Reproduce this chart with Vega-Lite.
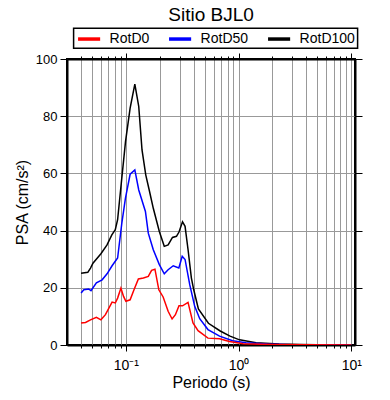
{
  "$schema": "https://vega.github.io/schema/vega-lite/v6.json",
  "autosize": {"type": "none"},
  "width": 288,
  "height": 286,
  "padding": {"left": 67, "top": 59, "right": 35, "bottom": 55},
  "background": "white",
  "title": {"text": "Sitio BJL0", "fontSize": 19, "font": "Liberation Sans", "fontWeight": "normal", "anchor": "middle", "offset": 3, "color": "black"},
  "config": {
    "view": {"stroke": "black", "strokeWidth": 2},
    "font": "Liberation Sans",
    "axis": {"domainColor": "black", "domainWidth": 2, "tickColor": "black", "labelColor": "black", "titleColor": "black", "labelFont": "Liberation Sans", "titleFont": "Liberation Sans", "titleFontWeight": "normal", "gridColor": "#999999", "gridWidth": 1, "gridOpacity": 1}
  },
  "data": {"values": [
    {"T": 0.040, "psa": 25.1, "serie": "RotD100"},
    {"T": 0.0459, "psa": 25.4, "serie": "RotD100"},
    {"T": 0.0485, "psa": 26.9, "serie": "RotD100"},
    {"T": 0.051, "psa": 28.6, "serie": "RotD100"},
    {"T": 0.060, "psa": 31.9, "serie": "RotD100"},
    {"T": 0.068, "psa": 35.0, "serie": "RotD100"},
    {"T": 0.075, "psa": 38.5, "serie": "RotD100"},
    {"T": 0.0805, "psa": 40.3, "serie": "RotD100"},
    {"T": 0.0844, "psa": 43.8, "serie": "RotD100"},
    {"T": 0.091, "psa": 56.6, "serie": "RotD100"},
    {"T": 0.0992, "psa": 71.1, "serie": "RotD100"},
    {"T": 0.109, "psa": 82.8, "serie": "RotD100"},
    {"T": 0.120, "psa": 91.2, "serie": "RotD100"},
    {"T": 0.130, "psa": 83.4, "serie": "RotD100"},
    {"T": 0.139, "psa": 68.2, "serie": "RotD100"},
    {"T": 0.150, "psa": 59.5, "serie": "RotD100"},
    {"T": 0.161, "psa": 54.2, "serie": "RotD100"},
    {"T": 0.175, "psa": 47.8, "serie": "RotD100"},
    {"T": 0.198, "psa": 39.7, "serie": "RotD100"},
    {"T": 0.219, "psa": 34.5, "serie": "RotD100"},
    {"T": 0.237, "psa": 35.0, "serie": "RotD100"},
    {"T": 0.259, "psa": 37.6, "serie": "RotD100"},
    {"T": 0.281, "psa": 38.0, "serie": "RotD100"},
    {"T": 0.296, "psa": 39.5, "serie": "RotD100"},
    {"T": 0.318, "psa": 43.1, "serie": "RotD100"},
    {"T": 0.335, "psa": 41.5, "serie": "RotD100"},
    {"T": 0.356, "psa": 33.4, "serie": "RotD100"},
    {"T": 0.381, "psa": 23.5, "serie": "RotD100"},
    {"T": 0.40, "psa": 19.3, "serie": "RotD100"},
    {"T": 0.44, "psa": 12.6, "serie": "RotD100"},
    {"T": 0.54, "psa": 7.6, "serie": "RotD100"},
    {"T": 0.687, "psa": 4.9, "serie": "RotD100"},
    {"T": 0.84, "psa": 3.1, "serie": "RotD100"},
    {"T": 1.02, "psa": 1.8, "serie": "RotD100"},
    {"T": 1.43, "psa": 0.8, "serie": "RotD100"},
    {"T": 2.29, "psa": 0.35, "serie": "RotD100"},
    {"T": 3.5, "psa": 0.15, "serie": "RotD100"},
    {"T": 5, "psa": 0.08, "serie": "RotD100"},
    {"T": 7, "psa": 0.05, "serie": "RotD100"},
    {"T": 10, "psa": 0.03, "serie": "RotD100"},

    {"T": 0.040, "psa": 18.2, "serie": "RotD50"},
    {"T": 0.0423, "psa": 19.3, "serie": "RotD50"},
    {"T": 0.0467, "psa": 19.6, "serie": "RotD50"},
    {"T": 0.049, "psa": 19.0, "serie": "RotD50"},
    {"T": 0.0547, "psa": 21.7, "serie": "RotD50"},
    {"T": 0.0615, "psa": 22.8, "serie": "RotD50"},
    {"T": 0.068, "psa": 24.9, "serie": "RotD50"},
    {"T": 0.0754, "psa": 27.7, "serie": "RotD50"},
    {"T": 0.0844, "psa": 30.4, "serie": "RotD50"},
    {"T": 0.092, "psa": 42.6, "serie": "RotD50"},
    {"T": 0.099, "psa": 51.3, "serie": "RotD50"},
    {"T": 0.109, "psa": 59.7, "serie": "RotD50"},
    {"T": 0.120, "psa": 61.2, "serie": "RotD50"},
    {"T": 0.130, "psa": 54.2, "serie": "RotD50"},
    {"T": 0.149, "psa": 46.7, "serie": "RotD50"},
    {"T": 0.158, "psa": 39.1, "serie": "RotD50"},
    {"T": 0.175, "psa": 33.3, "serie": "RotD50"},
    {"T": 0.198, "psa": 28.1, "serie": "RotD50"},
    {"T": 0.219, "psa": 24.9, "serie": "RotD50"},
    {"T": 0.237, "psa": 26.3, "serie": "RotD50"},
    {"T": 0.263, "psa": 27.7, "serie": "RotD50"},
    {"T": 0.295, "psa": 26.9, "serie": "RotD50"},
    {"T": 0.316, "psa": 31.0, "serie": "RotD50"},
    {"T": 0.335, "psa": 29.9, "serie": "RotD50"},
    {"T": 0.369, "psa": 21.0, "serie": "RotD50"},
    {"T": 0.408, "psa": 13.5, "serie": "RotD50"},
    {"T": 0.452, "psa": 9.2, "serie": "RotD50"},
    {"T": 0.535, "psa": 5.4, "serie": "RotD50"},
    {"T": 0.678, "psa": 3.1, "serie": "RotD50"},
    {"T": 0.885, "psa": 1.5, "serie": "RotD50"},
    {"T": 1.16, "psa": 0.8, "serie": "RotD50"},
    {"T": 1.8, "psa": 0.35, "serie": "RotD50"},
    {"T": 3, "psa": 0.12, "serie": "RotD50"},
    {"T": 5, "psa": 0.06, "serie": "RotD50"},
    {"T": 10, "psa": 0.02, "serie": "RotD50"},

    {"T": 0.040, "psa": 7.7, "serie": "RotD0"},
    {"T": 0.0438, "psa": 7.9, "serie": "RotD0"},
    {"T": 0.0485, "psa": 8.8, "serie": "RotD0"},
    {"T": 0.0547, "psa": 9.7, "serie": "RotD0"},
    {"T": 0.060, "psa": 8.8, "serie": "RotD0"},
    {"T": 0.0658, "psa": 10.6, "serie": "RotD0"},
    {"T": 0.0754, "psa": 15.0, "serie": "RotD0"},
    {"T": 0.0805, "psa": 14.7, "serie": "RotD0"},
    {"T": 0.0844, "psa": 16.4, "serie": "RotD0"},
    {"T": 0.0903, "psa": 19.9, "serie": "RotD0"},
    {"T": 0.0953, "psa": 17.0, "serie": "RotD0"},
    {"T": 0.100, "psa": 15.3, "serie": "RotD0"},
    {"T": 0.109, "psa": 15.8, "serie": "RotD0"},
    {"T": 0.118, "psa": 19.3, "serie": "RotD0"},
    {"T": 0.129, "psa": 23.1, "serie": "RotD0"},
    {"T": 0.143, "psa": 23.4, "serie": "RotD0"},
    {"T": 0.158, "psa": 24.0, "serie": "RotD0"},
    {"T": 0.169, "psa": 26.1, "serie": "RotD0"},
    {"T": 0.181, "psa": 26.5, "serie": "RotD0"},
    {"T": 0.196, "psa": 19.3, "serie": "RotD0"},
    {"T": 0.214, "psa": 16.8, "serie": "RotD0"},
    {"T": 0.237, "psa": 11.8, "serie": "RotD0"},
    {"T": 0.257, "psa": 9.1, "serie": "RotD0"},
    {"T": 0.275, "psa": 10.6, "serie": "RotD0"},
    {"T": 0.296, "psa": 13.7, "serie": "RotD0"},
    {"T": 0.318, "psa": 13.7, "serie": "RotD0"},
    {"T": 0.356, "psa": 14.9, "serie": "RotD0"},
    {"T": 0.394, "psa": 7.7, "serie": "RotD0"},
    {"T": 0.437, "psa": 5.0, "serie": "RotD0"},
    {"T": 0.535, "psa": 2.4, "serie": "RotD0"},
    {"T": 0.678, "psa": 2.2, "serie": "RotD0"},
    {"T": 0.83, "psa": 1.2, "serie": "RotD0"},
    {"T": 1.1, "psa": 0.45, "serie": "RotD0"},
    {"T": 2, "psa": 0.15, "serie": "RotD0"},
    {"T": 4, "psa": 0.05, "serie": "RotD0"},
    {"T": 10, "psa": 0.02, "serie": "RotD0"}
  ]},
  "layer": [
    {
      "mark": {"type": "line", "strokeWidth": 1.5, "clip": true},
      "encoding": {
        "x": {"field": "T", "type": "quantitative",
          "scale": {"type": "log", "domain": [0.03, 10.8], "nice": false, "zero": false},
          "axis": {"orient": "bottom", "title": "Periodo (s)", "titleFontSize": 16, "titlePadding": 2,
            "values": [0.04,0.05,0.06,0.07,0.08,0.09,0.1,0.2,0.3,0.4,0.5,0.6,0.7,0.8,0.9,1,2,3,4,5,6,7,8,9,10],
            "grid": true,
            "labelExpr": "datum.value == 0.1 ? '10⁻¹' : datum.value == 1 ? '10⁰' : datum.value == 10 ? '10¹' : ''",
            "labelFontSize": 14, "labelPadding": 7, "labelFlush": false, "labelOverlap": false,
            "tickSize": {"condition": {"test": "datum.value == 0.1 || datum.value == 1 || datum.value == 10", "value": 6}, "value": 3}}},
        "y": {"field": "psa", "type": "quantitative",
          "scale": {"domain": [0, 100], "nice": false},
          "axis": {"orient": "left", "title": "PSA (cm/s²)", "titleFontSize": 16, "titlePadding": 5,
            "values": [0, 20, 40, 60, 80, 100], "grid": true, "tickSize": 7, "labelFontSize": 13, "labelPadding": 3}},
        "color": {"field": "serie", "type": "nominal",
          "scale": {"domain": ["RotD0", "RotD50", "RotD100"], "range": ["#ff0000", "#0000ff", "#000000"]},
          "legend": {"orient": "none", "legendX": 6.6, "legendY": -30.7, "direction": "horizontal", "title": null,
            "symbolType": "M-1.7,0H1.7", "symbolSize": 169, "symbolStrokeWidth": 3.5, "symbolOffset": 5,
            "labelFontSize": 14, "labelFont": "Liberation Sans", "labelColor": "black", "labelOffset": 12,
            "columnPadding": 12, "padding": 2, "strokeColor": "black", "fillColor": "white",
            "encode": {"legend": {"update": {"strokeWidth": {"value": 1.5}}}}}}
      }
    },
    {
      "mark": {"type": "line", "opacity": 0},
      "encoding": {
        "x": {"field": "T", "type": "quantitative",
          "axis": {"orient": "top", "title": null, "labels": false, "grid": false,
            "values": [0.04,0.05,0.06,0.07,0.08,0.09,0.1,0.2,0.3,0.4,0.5,0.6,0.7,0.8,0.9,1,2,3,4,5,6,7,8,9,10],
            "tickSize": {"condition": {"test": "datum.value == 0.1 || datum.value == 1 || datum.value == 10", "value": 6}, "value": 3}}},
        "y": {"field": "psa", "type": "quantitative",
          "axis": {"orient": "right", "title": null, "labels": false, "grid": false, "values": [0, 20, 40, 60, 80, 100], "tickSize": 7}},
        "detail": {"field": "serie"}
      }
    }
  ],
  "resolve": {"axis": {"x": "independent", "y": "independent"}}
}
